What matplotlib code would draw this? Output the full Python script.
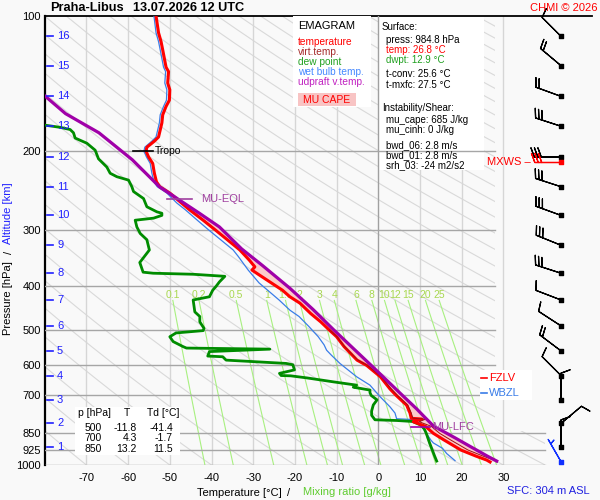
import numpy as np
import matplotlib.pyplot as plt
from matplotlib.patches import Rectangle, Polygon

plt.rcParams['font.family'] = ['Liberation Sans', 'DejaVu Sans']

# --- sounding data (hPa, degC), surface upward ---
temp_p = [984.8, 975, 956, 926, 880, 850, 820, 801, 790, 787, 766, 736, 700, 677, 636, 600,
          584, 545, 518, 500, 480, 460, 436, 422, 408, 376, 368, 362, 350, 332, 315, 300,
          285, 270, 259, 248, 240, 234, 224, 213, 206, 200, 196, 190, 186, 173, 166, 159,
          154, 146, 141, 133, 130, 119, 114, 109, 100]
temp_t = [26.8, 26.0, 23.5, 19.8, 15.8, 13.2, 11.3, 8.4, 10.4, 7.9, 7.6, 6.8, 4.3, 2.8, 0.5, -2.8,
          -5.1, -8.2, -10.0, -11.8, -13.8, -16.2, -18.8, -21.2, -23.0, -28.8, -30.3, -29.6, -30.9, -33.2, -36.2, -39.0,
          -42.0, -45.3, -47.6, -50.0, -52.4, -53.2, -53.7, -54.1, -55.1, -55.7, -55.5, -53.7, -52.7, -51.9, -51.7, -50.9,
          -50.1, -50.0, -50.5, -50.3, -50.9, -51.7, -52.1, -52.7, -53.3]

virt_p = [984.8, 975, 956, 926, 880, 850, 820, 801, 790, 787, 766, 736, 700, 677, 636, 600, 584, 545, 518, 500]
virt_t = [28.5, 27.7, 25.2, 21.5, 17.4, 14.7, 12.7, 9.8, 11.4, 8.3, 7.9, 7.1, 4.6, 3.1, 0.7, -2.6, -4.9, -8.1, -9.9, -11.7]

dew_p = [980, 955, 893, 850, 830, 815, 800, 796, 793, 775, 758, 735, 716, 700, 690, 681, 671, 664, 653, 640,
         633, 632, 625, 614, 598, 594, 584, 574, 572, 559, 552, 549, 545, 531, 518, 508, 502, 496, 480, 467,
         456, 429, 422, 408, 400, 391, 380, 376, 374, 372, 354, 332, 315, 305, 295, 285, 282, 278, 275, 273,
         266, 255, 246, 240, 232, 228, 224, 217, 208, 199, 192, 187, 182, 179, 177, 175]
dew_t = [14.0, 13.5, 12.3, 11.5, 11.0, 10.2, 8.2, 4.5, -0.8, -1.6, -1.6, -1.2, -0.3, -1.7, -2.0, -2.0, -6.0, -5.2, -10.7, -17.0,
         -21.0, -23.3, -23.7, -20.1, -20.5, -22.1, -36.5, -37.3, -40.9, -40.5, -26.0, -46.0, -46.8, -49.2, -50.0, -48.5, -42.0, -41.8, -42.8, -42.8,
         -44.0, -44.4, -40.5, -39.7, -38.9, -38.1, -36.8, -44.4, -54.0, -56.4, -57.2, -54.9, -55.5, -57.1, -57.9, -58.3, -53.9, -51.9, -51.9, -53.1,
         -55.5, -56.3, -58.7, -59.1, -59.9, -62.7, -64.3, -65.1, -67.1, -67.9, -69.9, -72.7, -73.1, -73.9, -76.3, -80.0]

wet_p = [978, 943, 918, 893, 880, 836, 800, 792, 789, 766, 742, 704, 664, 636, 594, 570, 555, 540, 518, 492,
         467, 452, 429, 393, 368, 343, 332, 315, 300, 285, 270, 261, 248, 240, 234, 224, 213, 206, 200, 196,
         190, 186, 173, 166, 159, 154, 146, 141, 133, 130, 119, 114, 109, 100]
wet_t = [18.4, 16.4, 15.4, 13.2, 12.6, 11.0, 9.4, 8.4, 4.4, 4.0, 2.8, 0.4, -2.0, -5.2, -9.2, -11.2, -12.4, -13.0, -14.4, -16.6,
         -19.0, -21.2, -23.8, -28.6, -31.2, -33.6, -34.8, -37.8, -40.6, -43.4, -46.3, -48.3, -50.7, -53.0, -53.8, -54.3, -54.7, -55.6, -56.2, -56.0,
         -54.3, -53.3, -52.5, -52.3, -51.5, -50.8, -50.7, -51.2, -51.0, -51.5, -52.3, -52.7, -53.3, -53.8]

parcel_p = [980, 956, 910, 870, 836, 820, 782, 750, 700, 650, 600, 550, 500, 450, 404, 360, 330, 295,
            275, 257, 240, 209, 182, 165, 150]
parcel_t = [28.4, 26.2, 22.1, 18.4, 15.0, 13.3, 11.1, 9.2, 5.8, 2.2, -1.7, -6.0, -10.7, -15.7, -21.2, -27.7, -32.8, -38.1,
            -42.9, -47.7, -52.5, -59.0, -67.0, -75.0, -80.2]

# altitude scale and winds
alt_km = list(range(1, 17))
alt_p = [910, 808, 716, 632, 557, 490, 429, 374, 324, 278, 240, 206, 176, 151, 129, 111]
wind_dir = [360, 50, 360, 315, 307, 303, 291, 288, 292, 290, 288, 270, 288, 290, 310, 315]
wind_spd = [10, 10, 10, 10, 20, 10, 10, 30, 30, 30, 30, 30, 30, 20, 20, 10]
sfc_p, sfc_dir, sfc_spd = 984.8, 330, 5
mxws_p, mxws_dir, mxws_spd = 211, 270, 30

# levels
tropo_p, eql_p, lfc_p, fzlv_p, wbzl_p = 200, 256, 822, 639, 692

isobars = [200, 300, 400, 500, 600, 700, 850, 925, 1000]
isotherms = [-70, -60, -50, -40, -30, -20, -10, 0, 10, 20, 30]
mix_ratios = [0.1, 0.2, 0.5, 1, 1.5, 2, 3, 4, 6, 8, 10, 12, 15, 20, 25]
mix_labels = ['0.1', '0.2', '0.5', '1', '1.5', '2', '3', '4', '6', '8', '10', '12', '15', '20', '25']

table_rows = [('500', '-11.8', '-41.4'), ('700', '4.3', '-1.7'), ('850', '13.2', '11.5')]


def tx(px):
    return (px - 378.3) / 4.17


def pz(py):
    return 100 * 10 ** ((py - 16) / 449)


def fx(px):
    return px / 600


def fy(py):
    return 1 - py / 500


def mix_td(w, p):
    e = w * p / (622.0 + w)
    a = np.log(e / 6.112)
    return 243.5 * a / (17.67 - a)


fig = plt.figure(figsize=(6, 5), dpi=100)
bg = '#f9f9f9'
fig.patch.set_facecolor(bg)
ax = fig.add_axes([45 / 600, 35 / 500, 547 / 600, 449 / 500])
ax.set_facecolor(bg)
ax.set_yscale('log')
ax.set_ylim(1000, 100)
ax.set_xlim(tx(45), tx(592))

for s in ['right', 'bottom']:
    ax.spines[s].set_visible(False)
ax.spines['left'].set_linewidth(1.6)
ax.spines['top'].set_linewidth(1.3)

ax.set_xticks(isotherms)
ax.set_xticklabels([str(t) for t in isotherms], fontsize=8)
ax.tick_params(axis='x', length=0, pad=6)
ax.set_yticks(isobars + [100])
ax.set_yticklabels([str(p) for p in isobars + [100]], fontsize=8)
ax.yaxis.set_minor_locator(plt.NullLocator())
ax.tick_params(axis='y', which='both', length=0, pad=3)

# background grid
clip = Polygon([(-90, 100), (28, 100), (28, 840), (40, 840), (40, 1000), (-90, 1000)],
               closed=True, transform=ax.transData, fill=False, visible=False)
ax.add_patch(clip)
pp = np.geomspace(100, 1000, 200)
for k in range(-8, 32):
    theta = 273.15 + 10 * k
    line, = ax.plot(theta * (pp / 1000) ** 0.286 - 273.15, pp, color='#d9d9d9', lw=0.8, zorder=1)
    line.set_clip_path(clip)

for t in isotherms:
    ax.axvline(t, color='#a0a0a0' if t == 0 else '#d6d6d6', lw=1, zorder=1.2 if t else 3)

for p in isobars:
    ax.plot([-80, 40 if p >= 850 else 28], [p, p], color='#a6a6a6', lw=1, zorder=3)

pm = np.geomspace(430, 1000, 50)
for w, lab in zip(mix_ratios, mix_labels):
    ax.plot(mix_td(w, pm), pm, color='#a8f080', lw=0.8, zorder=1.5)
    ax.text(mix_td(w, 430), pz(295), lab, color='#a8d850', fontsize=7.5, ha='center', va='center', zorder=2)

# boxes
ax.add_patch(Rectangle((tx(378), pz(170)), tx(484) - tx(378), 100 - pz(170), facecolor='white',
                       edgecolor='none', zorder=2.5))
ax.add_patch(Rectangle((tx(293), pz(107)), tx(371) - tx(293), 100 - pz(107), facecolor='white',
                       edgecolor='none', zorder=4))
ax.add_patch(Rectangle((tx(298), pz(106)), tx(356) - tx(298), pz(93) - pz(106), facecolor='#f8c4c4',
                       edgecolor='none', zorder=4.5))
ax.add_patch(Rectangle((tx(75), pz(455)), tx(180) - tx(75), pz(407) - pz(455), facecolor='white',
                       edgecolor='none', zorder=6))
ax.add_patch(Rectangle((tx(480), pz(400)), tx(532) - tx(480), pz(370) - pz(400), facecolor='white',
                       edgecolor='none', zorder=5, clip_on=False))

# CAPE area
pf = np.geomspace(eql_p, 980, 400)
t_env = np.interp(np.log(pf), np.log(temp_p[::-1]), temp_t[::-1])
t_par = np.interp(np.log(pf), np.log(parcel_p[::-1]), parcel_t[::-1])
ax.fill_betweenx(pf, t_env, t_par, where=t_par > t_env, color='#fbcaca', lw=0, zorder=3.5)

# profiles
ax.plot(wet_t, wet_p, color='#3a7de8', lw=0.9, zorder=4)
ax.plot(dew_t, dew_p, color='#008c00', lw=2.0, zorder=4.2)
ax.plot(temp_t, temp_p, color='#ff0000', lw=2.2, zorder=4.4)
ax.plot(virt_t, virt_p, color='#a01010', lw=0.7, zorder=4.5)
ax.plot(parcel_t, parcel_p, color='#a000a8', lw=2.3, zorder=4.6)

# level marks
ax.plot([tx(133), tx(153)], [tropo_p, tropo_p], color='black', lw=1.2, zorder=5)
ax.text(tx(155), tropo_p, 'Tropo', fontsize=7.5, va='center', zorder=5)
ax.plot([tx(167), tx(192)], [eql_p, eql_p], color='#a040a0', lw=1.2, zorder=5)
ax.text(tx(201), eql_p, 'MU-EQL', fontsize=8, color='#a040a0', va='center', zorder=5)
ax.plot([tx(411), tx(430)], [lfc_p, lfc_p], color='#a000a8', lw=1.2, zorder=5)
ax.text(tx(432), lfc_p, 'MU-LFC', fontsize=8, color='#a040a0', va='center', zorder=5)
ax.plot([tx(481), tx(487)], [fzlv_p, fzlv_p], color='red', lw=1.2, zorder=6, clip_on=False)
ax.text(tx(489), fzlv_p, 'FZLV', fontsize=8, color='red', va='center', zorder=6)
ax.plot([tx(481), tx(487)], [wbzl_p, wbzl_p], color='#3a7de8', lw=1.2, zorder=6, clip_on=False)
ax.text(tx(489), wbzl_p, 'WBZL', fontsize=8, color='#3a7de8', va='center', zorder=6)
ax.text(tx(487), mxws_p, 'MXWS \u2013', fontsize=8, color='red', va='center', zorder=6)

# altitude scale
for km, p in zip(alt_km, alt_p):
    ax.plot([tx(47), tx(53)], [p, p], color='#2020ff', lw=1.2, zorder=5, clip_on=False)
    ax.text(tx(57), p, str(km), color='#2020ff', fontsize=8, va='center', zorder=5)

# wind barbs
xb = tx(561)
sizes = dict(spacing=0.13, height=0.34, width=0.25, emptybarb=0)
blen = 6.2


def uv(d, s):
    d = np.radians(np.asarray(d, dtype=float))
    s = np.asarray(s, dtype=float)
    return -s * np.sin(d), -s * np.cos(d)


u, v = uv(wind_dir, wind_spd)
ax.barbs([xb] * len(alt_p), alt_p, u, v, length=blen, linewidth=0.9, color='black', sizes=sizes,
         clip_on=False, zorder=8)
u, v = uv([mxws_dir], [mxws_spd])
ax.barbs([xb], [mxws_p], u, v, length=blen, linewidth=0.9, color='red', sizes=sizes,
         clip_on=False, zorder=8)
u, v = uv([sfc_dir], [sfc_spd])
ax.barbs([xb], [sfc_p], u, v, length=blen, linewidth=0.9, color='#1030ff', sizes=sizes,
         clip_on=False, zorder=8)
ax.scatter([xb] * len(alt_p), alt_p, marker='s', s=5, color='black', zorder=9, clip_on=False)
ax.scatter([xb], [mxws_p], marker='s', s=5, color='red', zorder=9, clip_on=False)
ax.scatter([xb], [sfc_p], marker='s', s=5, color='#1030ff', zorder=9, clip_on=False)

# texts
fig.text(fx(50), fy(8), 'Praha-Libus', fontsize=9.2, fontweight='bold', va='center')
fig.text(fx(133), fy(8), '13.07.2026 12 UTC', fontsize=9.2, fontweight='bold', va='center')
fig.text(fx(597), fy(8), 'CHMI \u00a9 2026', fontsize=8, color='red', ha='right', va='center')

legend = [('EMAGRAM', 'black', 26, 8), ('temperature', 'red', 42, 7.3), ('virt.temp.', '#a52a2a', 52, 7.3),
          ('dew point', '#20a020', 62, 7.3), ('wet bulb temp.', '#4488ff', 72, 7.3),
          ('udpraft v.temp.', '#c020c0', 82, 7.3), ('MU CAPE', 'red', 100, 7.5)]
for txt, col, y, fs in legend:
    fig.text(fx(303 if txt == 'MU CAPE' else 298), fy(y), txt, color=col, fontsize=fs, va='center')

surface = [('Surface:', 'black', 382, 27), ('press: 984.8 hPa', 'black', 386, 40),
           ('temp: 26.8 \u00b0C', 'red', 386, 50), ('dwpt: 12.9 \u00b0C', '#20a020', 386, 60),
           ('t-conv: 25.6 \u00b0C', 'black', 386, 74), ('t-mxfc: 27.5 \u00b0C', 'black', 386, 84.5),
           ('Instability/Shear:', 'black', 382, 108), ('mu_cape: 685 J/kg', 'black', 386, 120),
           ('mu_cinh: 0 J/kg', 'black', 386, 130), ('bwd_06: 2.8 m/s', 'black', 386, 145),
           ('bwd_01: 2.8 m/s', 'black', 386, 155), ('srh_03: -24 m2/s2', 'black', 386, 165)]
for txt, col, x, y in surface:
    fig.text(fx(x), fy(y), txt, color=col, fontsize=7, va='center')

fig.text(fx(78), fy(413), 'p [hPa]', fontsize=7.5, va='center')
fig.text(fx(127), fy(413), 'T', fontsize=7.5, va='center', ha='center')
fig.text(fx(147), fy(413), 'Td [\u00b0C]', fontsize=7.5, va='center')
for i, (p, t, td) in enumerate(table_rows):
    y = 428 + 10.3 * i
    fig.text(fx(102), fy(y), p, fontsize=7.5, va='center', ha='right')
    fig.text(fx(137), fy(y), t, fontsize=7.5, va='center', ha='right')
    fig.text(fx(173), fy(y), td, fontsize=7.5, va='center', ha='right')

fig.text(fx(197), fy(493), 'Temperature [\u00b0C]', fontsize=8, va='center')
fig.text(fx(287), fy(493), '/', fontsize=8, va='center')
fig.text(fx(303), fy(492), 'Mixing ratio [g/kg]', fontsize=8, color='#60cc30', va='center')
fig.text(fx(590), fy(491), 'SFC: 304 m ASL', fontsize=8, color='#2020e0', va='center', ha='right')

fig.text(fx(8.5), fy(298), 'Pressure [hPa]', fontsize=8, rotation=90, va='center', ha='center')
fig.text(fx(8.5), fy(252), '/', fontsize=8, rotation=90, va='center', ha='center')
fig.text(fx(8.5), fy(213), 'Altitude [km]', fontsize=8, rotation=90, va='center', ha='center', color='#2020ff')

fig.savefig('out.png', dpi=100, facecolor=bg)
